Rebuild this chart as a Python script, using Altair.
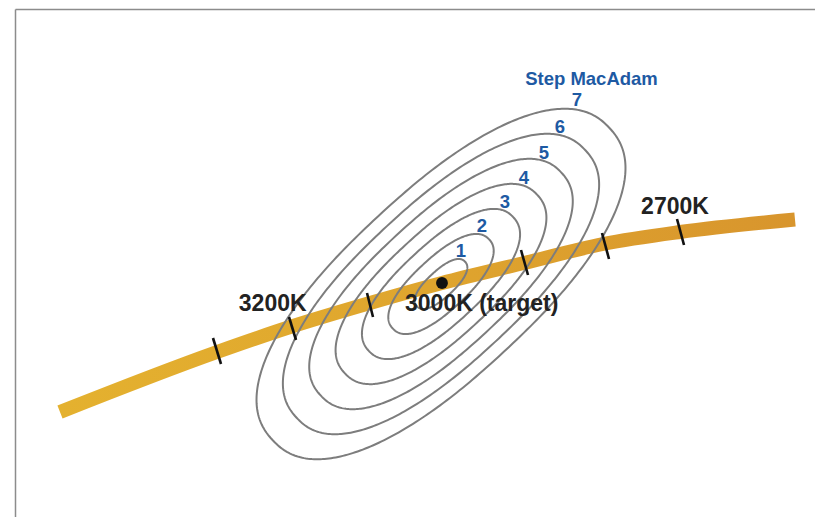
import numpy as np
import pandas as pd
import altair as alt

# plot-area units (x to the right, y upward)
W, H = 800, 508

# Planckian locus centre line
locus_u = [45, 202, 275, 355, 427, 509, 588, 665, 780]
locus_v = [105, 165, 190, 214, 234, 254, 273, 285, 297.5]

# CCT tick marks on the locus (start / end points)
tick_u1 = [198, 274, 352, 506, 587, 662]
tick_v1 = [179, 200, 224, 267, 284, 298]
tick_u2 = [206, 281, 358, 513, 594, 669]
tick_v2 = [153, 177, 200, 242, 258, 272]

# target point
target_u = [427]
target_v = [234]

# MacAdam ellipses
steps = [1, 2, 3, 4, 5, 6, 7]
ell_center = (426, 233)
semi_major_1 = 32.8
semi_minor_1 = 13.2
tilt_deg = 42.8
shape_exp = 2.3

# step labels
step_lab = ["1", "2", "3", "4", "5", "6", "7"]
step_lab_u = [446, 467, 490, 509, 529, 545, 562]
step_lab_v = [266, 291, 315, 339, 364, 390, 417]

title_txt = ["Step MacAdam"]
title_u = [576.5]
title_v = [438.5]

cct_txt = ["3200K", "3000K (target)", "2700K"]
cct_u = [257.7, 466.7, 660]
cct_v = [213, 213, 310.5]

# ---------- tables ----------
locus_df = pd.DataFrame({"u": locus_u, "v": locus_v, "i": range(len(locus_u))})
ticks_df = pd.DataFrame({"u": tick_u1, "v": tick_v1, "u2": tick_u2, "v2": tick_v2})
target_df = pd.DataFrame({"u": target_u, "v": target_v})

rows = []
th = np.deg2rad(tilt_deg)
t = np.linspace(0, 2 * np.pi, 361)
ct, st = np.cos(t), np.sin(t)
ce = np.sign(ct) * np.abs(ct) ** (2 / shape_exp)
se = np.sign(st) * np.abs(st) ** (2 / shape_exp)
for n in steps:
    a, b = semi_major_1 * n, semi_minor_1 * n
    px, py = a * ce, b * se
    uu = ell_center[0] + px * np.cos(th) - py * np.sin(th)
    vv = ell_center[1] + px * np.sin(th) + py * np.cos(th)
    for k in range(len(t)):
        rows.append({"step": n, "k": k, "u": uu[k], "v": vv[k]})
ell_df = pd.DataFrame(rows)

steps_df = pd.DataFrame({"txt": step_lab, "u": step_lab_u, "v": step_lab_v})
title_df = pd.DataFrame({"txt": title_txt, "u": title_u, "v": title_v})
cct_df = pd.DataFrame({"txt": cct_txt, "u": cct_u, "v": cct_v})

axis_x = alt.Axis(orient="top", labels=False, ticks=False, grid=False, title=None,
                  domainColor="#8c8c8c", domainWidth=1.5)
axis_y = alt.Axis(orient="left", labels=False, ticks=False, grid=False, title=None,
                  domainColor="#8c8c8c", domainWidth=1.5)
xs = alt.Scale(domain=[0, W], nice=False, zero=False)
ys = alt.Scale(domain=[0, H], nice=False, zero=False)


def X(f="u"):
    return alt.X(f"{f}:Q", scale=xs, axis=axis_x)


def Y(f="v"):
    return alt.Y(f"{f}:Q", scale=ys, axis=axis_y)


FONT = "Liberation Sans"

grad = alt.Gradient(
    gradient="linear",
    stops=[alt.GradientStop(color="#E4B12F", offset=0),
           alt.GradientStop(color="#DFA52E", offset=0.5),
           alt.GradientStop(color="#D8952D", offset=1)],
    x1=0, x2=1, y1=0, y2=0,
)

locus = alt.Chart(locus_df).mark_line(stroke=grad, strokeWidth=14, strokeCap="butt",
                                      interpolate="monotone", clip=True).encode(
    x=X(), y=Y(), order="i:Q")

ellipses = alt.Chart(ell_df).mark_line(color="#7d7d7d", strokeWidth=2).encode(
    x=X(), y=Y(), detail="step:N", order="k:Q")

ticks = alt.Chart(ticks_df).mark_rule(color="#111111", strokeWidth=2.6).encode(
    x=X(), y=Y(), x2="u2:Q", y2="v2:Q")

dot = alt.Chart(target_df).mark_circle(color="#111111", opacity=1, size=140).encode(
    x=X(), y=Y())

step_text = alt.Chart(steps_df).mark_text(font=FONT, fontWeight="bold", fontSize=18.5,
                                          color="#1E5AA3", baseline="middle").encode(
    x=X(), y=Y(), text="txt:N")

title_text = alt.Chart(title_df).mark_text(font=FONT, fontWeight="bold", fontSize=18.5,
                                           color="#1E5AA3", baseline="middle").encode(
    x=X(), y=Y(), text="txt:N")

cct_text = alt.Chart(cct_df).mark_text(font=FONT, fontWeight="bold", fontSize=23,
                                       color="#222222", baseline="middle").encode(
    x=X(), y=Y(), text="txt:N")

chart = alt.layer(locus, ellipses, ticks, dot, step_text, title_text, cct_text).properties(
    width=W, height=H,
    autosize=alt.AutoSizeParams(type="none"),
    padding={"left": 7, "top": 1, "right": 0, "bottom": 0},
).configure_view(stroke=None)

chart.save("out.html", embed_options={"renderer": "svg", "actions": False})
